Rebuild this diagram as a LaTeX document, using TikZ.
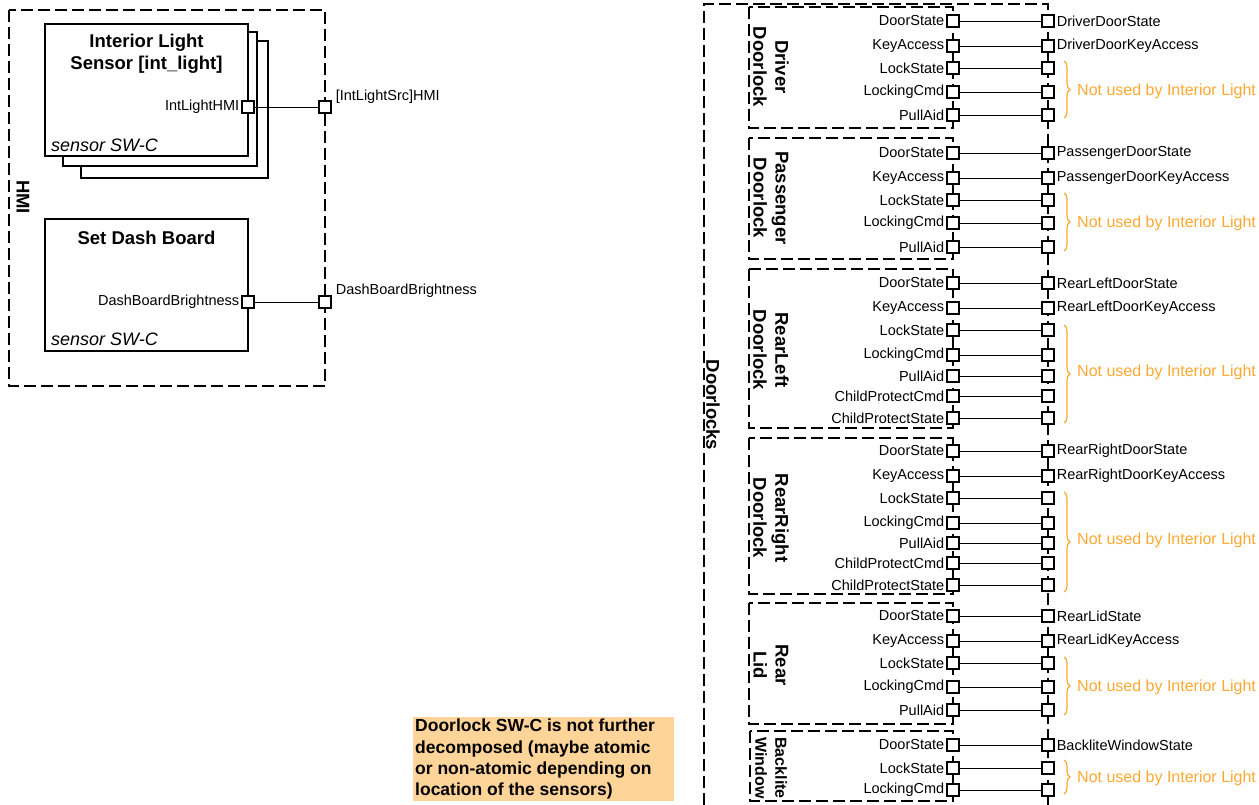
\documentclass[tikz,border=0pt]{standalone}
\usepackage{fontspec}
\setmainfont{Liberation Sans}
\usepackage{tikz}
\usetikzlibrary{positioning,decorations.pathreplacing}
\definecolor{notecol}{RGB}{255,212,153}
\definecolor{unusedcol}{RGB}{255,168,50}

\begin{document}
\begin{tikzpicture}
[x=1pt,y=-1pt,align=center,node distance=1pt]
\tikzstyle{swc}=[draw,fill=white,line width=1.2pt]
\tikzstyle{comp}=[draw,dash pattern=on 12pt off 5pt,line width=1.6pt]
\tikzstyle{port}=[draw,fill=white,line width=1.2pt,minimum size=12pt,inner sep=0pt]
\tikzstyle{pname}=[inner sep=1pt,font=\fontsize{14.5}{17}\selectfont]
\tikzstyle{title}=[inner sep=1pt,font=\bfseries\fontsize{18.5}{22}\selectfont]
\tikzstyle{kind}=[inner sep=1pt,anchor=west,font=\itshape\fontsize{18}{21}\selectfont]
\tikzstyle{unused}=[decorate,decoration={brace,amplitude=6pt},draw=unusedcol,line width=1.2pt]
\tikzstyle{uname}=[inner sep=1pt,anchor=west,text=unusedcol,font=\fontsize{16}{19}\selectfont]
\tikzstyle{note}=[fill=notecol,inner sep=2pt,anchor=north west,text width=257pt,align=flush left,font=\bfseries\fontsize{17.5}{21.3}\selectfont]

\useasboundingbox (0,0) rectangle (1259,805);

% HMI
\draw [comp] (9,10) rectangle (325,386);
\draw node [title,rotate=-90] (hmi) at (23,197) {HMI};

\draw [swc] (81,41) rectangle (268,178);
\draw [swc] (63,32) rectangle (257,166);
\draw node [swc,minimum width=203pt,minimum height=132pt] (ils) at (146.5,90) {};
\draw node [title] (ilst) at (146.5,54) {Interior Light\\Sensor [int\_light]};
\draw node [kind] (ilsk) at (50,145) {sensor SW-C};
\draw node [port] (ilsp) at (248,107) {};
\draw node [pname,left=of ilsp] (ilspn) {IntLightHMI};

\draw node [swc,minimum width=203pt,minimum height=132pt] (sdb) at (146.5,285) {};
\draw node [title] (sdbt) at (146.5,238) {Set Dash Board};
\draw node [kind] (sdbk) at (50,339) {sensor SW-C};
\draw node [port] (sdbp) at (248,302) {};
\draw node [pname,left=of sdbp] (sdbpn) {DashBoardBrightness};

\draw node [port] (hmi1) at (325,107) {};
\draw node [pname,right=3pt of hmi1,yshift=10pt] (hmi1n) {[IntLightSrc]HMI};
\draw node [port] (hmi2) at (325,302) {};
\draw node [pname,right=3pt of hmi2,yshift=11pt] (hmi2n) {DashBoardBrightness};

\draw (ilsp) -- (hmi1);
\draw (sdbp) -- (hmi2);

% Doorlocks
\draw [comp] (704,805) -- (704,4) -- (1048,4) -- (1048,805);
\draw node [title,rotate=-90] (dls) at (713,405) {Doorlocks};

% Driver Doorlock
\draw [comp] (749,7) rectangle (953,128);
\draw node [title,rotate=-90] (drv) at (771,67) {Driver\\Doorlock};
\foreach \y/\a [count=\i] in {21/DoorState,46/KeyAccess,68/LockState,92/LockingCmd,115/PullAid}
{
\draw node [port] (drv\i) at (953,\y) {};
\draw node [port] (drvo\i) at (1048,\y) {};
\draw node [pname,left=of drv\i] (drvn\i) {\a};
\draw (drv\i) -- (drvo\i);
}
\draw node [pname,right=of drvo1] (drvs) {DriverDoorState};
\draw node [pname,right=of drvo2] (drvk) {DriverDoorKeyAccess};
\draw [unused] (1064,61) -- (1064,118);
\draw node [uname] (drvu) at (1076,91) {Not used by Interior Light};

% Passenger Doorlock
\draw [comp] (749,138) rectangle (953,259);
\draw node [title,rotate=-90] (pas) at (771,198) {Passenger\\Doorlock};
\foreach \y/\a [count=\i] in {153/DoorState,178/KeyAccess,200/LockState,223/LockingCmd,247/PullAid}
{
\draw node [port] (pas\i) at (953,\y) {};
\draw node [port] (paso\i) at (1048,\y) {};
\draw node [pname,left=of pas\i] (pasn\i) {\a};
\draw (pas\i) -- (paso\i);
}
\draw node [pname,right=of paso1] (pass) {PassengerDoorState};
\draw node [pname,right=of paso2] (pask) {PassengerDoorKeyAccess};
\draw [unused] (1064,193) -- (1064,251);
\draw node [uname] (pasu) at (1076,223) {Not used by Interior Light};

% RearLeft Doorlock
\draw [comp] (749,269) rectangle (953,428);
\draw node [title,rotate=-90] (rl) at (771,350) {RearLeft\\Doorlock};
\foreach \y/\a [count=\i] in {283/DoorState,308/KeyAccess,330/LockState,355/LockingCmd,376/PullAid,396/ChildProtectCmd,418/ChildProtectState}
{
\draw node [port] (rl\i) at (953,\y) {};
\draw node [port] (rlo\i) at (1048,\y) {};
\draw node [pname,left=of rl\i] (rln\i) {\a};
\draw (rl\i) -- (rlo\i);
}
\draw node [pname,right=of rlo1] (rls) {RearLeftDoorState};
\draw node [pname,right=of rlo2] (rlk) {RearLeftDoorKeyAccess};
\draw [unused] (1064,325) -- (1064,423);
\draw node [uname] (rlu) at (1076,372) {Not used by Interior Light};

% RearRight Doorlock
\draw [comp] (749,438) rectangle (953,594);
\draw node [title,rotate=-90] (rr) at (771,518) {RearRight\\Doorlock};
\foreach \y/\a [count=\i] in {451/DoorState,476/KeyAccess,498/LockState,523/LockingCmd,543/PullAid,563/ChildProtectCmd,585/ChildProtectState}
{
\draw node [port] (rr\i) at (953,\y) {};
\draw node [port] (rro\i) at (1048,\y) {};
\draw node [pname,left=of rr\i] (rrn\i) {\a};
\draw (rr\i) -- (rro\i);
}
\draw node [pname,right=of rro1] (rrs) {RearRightDoorState};
\draw node [pname,right=of rro2] (rrk) {RearRightDoorKeyAccess};
\draw [unused] (1064,492) -- (1064,592);
\draw node [uname] (rru) at (1076,540) {Not used by Interior Light};

% Rear Lid
\draw [comp] (749,603) rectangle (953,724);
\draw node [title,rotate=-90] (lid) at (771,665) {Rear\\Lid};
\foreach \y/\a [count=\i] in {616/DoorState,641/KeyAccess,663/LockState,687/LockingCmd,710/PullAid}
{
\draw node [port] (lid\i) at (953,\y) {};
\draw node [port] (lido\i) at (1048,\y) {};
\draw node [pname,left=of lid\i] (lidn\i) {\a};
\draw (lid\i) -- (lido\i);
}
\draw node [pname,right=of lido1] (lids) {RearLidState};
\draw node [pname,right=of lido2] (lidk) {RearLidKeyAccess};
\draw [unused] (1064,657) -- (1064,715);
\draw node [uname] (lidu) at (1076,687) {Not used by Interior Light};

% Backlite Window
\draw [comp] (750,731) rectangle (953,801);
\draw node [title,rotate=-90,font=\bfseries\fontsize{16}{20}\selectfont] (bw) at (771,768) {Backlite\\Window};
\foreach \y/\a [count=\i] in {745/DoorState,768/LockState,790/LockingCmd}
{
\draw node [port] (bw\i) at (953,\y) {};
\draw node [port] (bwo\i) at (1048,\y) {};
\draw node [pname,left=of bw\i] (bwn\i) {\a};
\draw (bw\i) -- (bwo\i);
}
\draw node [pname,right=of bwo1] (bws) {BackliteWindowState};
\draw [unused] (1064,760) -- (1064,794);
\draw node [uname] (bwu) at (1076,778) {Not used by Interior Light};

% note
\draw node [note] (note) at (413,717) {Doorlock SW-C is not further\\decomposed (maybe atomic\\or non-atomic depending on\\location of the sensors)};

\end{tikzpicture}
\end{document}
